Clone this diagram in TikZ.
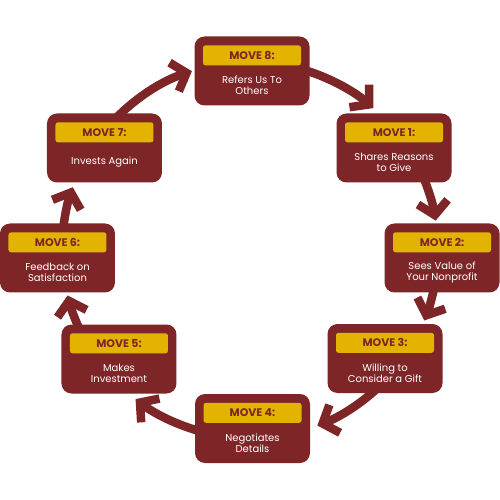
\documentclass[tikz,border=0pt]{standalone}
\usepackage{fontspec}
\setmainfont{Poppins}
\usetikzlibrary{arrows.meta}
\definecolor{wine}{HTML}{7E2527}
\definecolor{gold}{HTML}{E2B300}
\tikzset{
  movebox/.style={fill=wine, rounded corners=10pt, minimum width=115pt, minimum height=69pt, inner sep=0pt},
  goldbar/.style={fill=gold, rounded corners=2.5pt, minimum width=98pt, minimum height=20pt, inner sep=0pt,
    text=wine, font=\fontsize{11}{12}\selectfont\bfseries},
  bodytext/.style={text=white, align=center, font=\fontsize{10}{11}\selectfont, inner sep=0pt},
  flow/.style={draw=wine, line width=8.5pt, -{Straight Barb[length=13pt,width=30pt]}}
}
\newcommand{\mv}[5]{%
  \node[movebox] (#1) at (#2) {};
  \node[goldbar] (#1g) at ([yshift=-19pt]#1.north) {#3};
  \node[bodytext] (#1t) at ([yshift=-49pt]#1.north) {#4};
}
\begin{document}
\begin{tikzpicture}[x=1pt,y=1pt]
\useasboundingbox (-250,-250) rectangle (250,250);
% arrows along the circle
\foreach \s/\e/\n in {72/49/1, 22/9/2, -12/-22/3, -47/-69/4, -106/-127.5/5, -155/-166/6, 175/160.5/7, 136/108/8}{
  \coordinate (s\n) at (\s:188);
  \draw[flow] (s\n) arc[start angle=\s, end angle=\e, radius=188];
}
\mv{m8}{2,179}{MOVE 8:}{Refers Us To\\Others}{}
\mv{m1}{144,102}{MOVE 1:}{Shares Reasons\\to Give}{}
\mv{m2}{192,-8}{MOVE 2:}{Sees Value of\\Your Nonprofit}{}
\mv{m3}{135,-108.5}{MOVE 3:}{Willing to\\Consider a Gift}{}
\mv{m4}{2.5,-178.5}{MOVE 4:}{Negotiates\\Details}{}
\mv{m5}{-131,-109}{MOVE 5:}{Makes\\Investment}{}
\mv{m6}{-192.5,-8}{MOVE 6:}{Feedback on\\Satisfaction}{}
\mv{m7}{-145.5,102}{MOVE 7:}{Invests Again}{}
\end{tikzpicture}
\end{document}
